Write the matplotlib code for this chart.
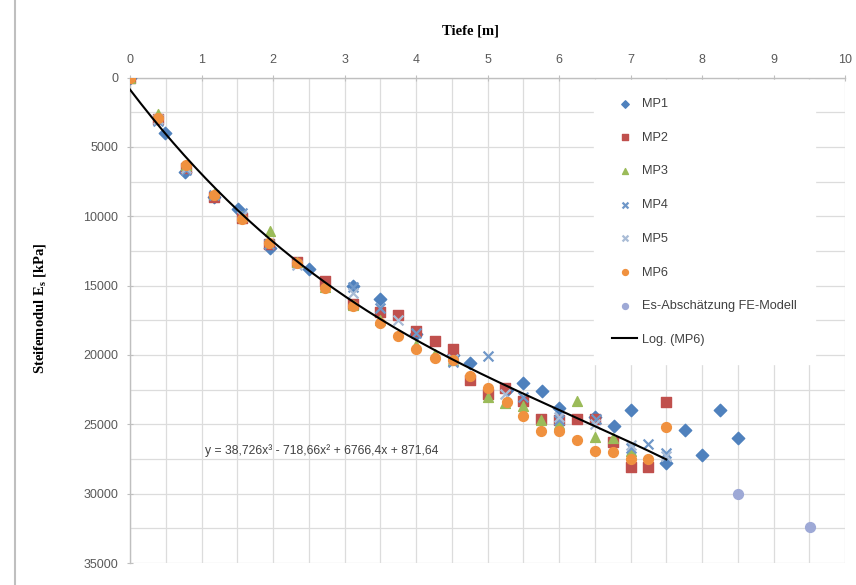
import matplotlib
matplotlib.use('Agg')
import matplotlib.pyplot as plt
import numpy as np
from matplotlib.lines import Line2D
from matplotlib.ticker import MultipleLocator

plt.rcParams['mathtext.fontset'] = 'custom'
plt.rcParams['mathtext.rm'] = 'Liberation Serif'
plt.rcParams['mathtext.bf'] = 'Liberation Serif:bold'

# ---------------- data (depth [m], stiffness modulus [kPa]) ----------------
mp1_x = [0, 0.49, 0.77, 1.17, 1.51, 1.96, 2.51, 3.12, 3.5, 4.0, 4.52, 4.76, 5.27,
         5.5, 5.76, 6.0, 6.5, 6.77, 7.0, 7.5, 7.76, 8.0, 8.25, 8.5]
mp1_y = [0, 4000, 6800, 8600, 9500, 12300, 13800, 15000, 16000, 18500, 20000, 20600, 22500,
         22000, 22600, 23800, 24500, 25100, 24000, 27800, 25400, 27200, 24000, 26000]

mp2_x = [0, 0.39, 0.78, 1.17, 1.56, 1.95, 2.34, 2.73, 3.12, 3.5, 3.75, 4.0, 4.27, 4.52,
         4.76, 5.0, 5.25, 5.5, 5.75, 6.0, 6.25, 6.5, 6.75, 7.0, 7.25, 7.5]
mp2_y = [0, 3000, 6500, 8600, 10100, 12000, 13300, 14700, 16300, 16900, 17100, 18300, 19000, 19600,
         21800, 22800, 22400, 23300, 24600, 24700, 24600, 24600, 26300, 28100, 28100, 23400]

mp3_x = [0, 0.39, 0.78, 1.17, 1.56, 1.96, 2.34, 2.73, 3.12, 3.5, 4.0, 4.27, 4.52, 5.0,
         5.25, 5.5, 5.75, 6.0, 6.25, 6.5, 6.75, 7.0]
mp3_y = [0, 2600, 6300, 8400, 10000, 11100, 13300, 15100, 16400, 17500, 19300, 19900, 20400, 23000,
         23500, 23700, 24700, 25000, 23300, 25900, 26000, 26900]

mp4_x = [0.39, 0.78, 1.17, 1.56, 1.95, 3.12, 3.5, 4.0, 4.52, 5.0, 5.5, 6.0, 6.52, 7.0, 7.25, 7.5]
mp4_y = [3100, 6700, 8500, 9800, 12000, 15100, 16600, 18400, 20500, 20100, 23000, 24700, 24600,
         26700, 26400, 27100]

mp5_x = [0.39, 0.78, 1.56, 2.34, 3.12, 3.75, 4.52, 5.25, 6.0, 6.5, 7.0, 7.5]
mp5_y = [3000, 6500, 10000, 13500, 15500, 17500, 20300, 22800, 24500, 25000, 26500, 27300]

mp6_x = [0, 0.39, 0.78, 1.17, 1.56, 1.95, 2.34, 2.73, 3.12, 3.5, 3.75, 4.0, 4.27, 4.52,
         4.76, 5.0, 5.27, 5.5, 5.75, 6.0, 6.25, 6.5, 6.75, 7.0, 7.25, 7.5]
mp6_y = [0, 2900, 6300, 8500, 10200, 11900, 13400, 15200, 16500, 17700, 18600, 19600, 20200, 20400,
         21500, 22400, 23400, 24400, 25500, 25500, 26100, 26900, 27000, 27500, 27500, 25200]

fe_x = [8.5, 9.51]
fe_y = [30000, 32400]

fit_coef = [38.726, -718.66, 6766.4, 871.64]
fit_xmax = 7.5
fit_label = "y = 38,726x³ - 718,66x² + 6766,4x + 871,64"

series_labels = ["MP1", "MP2", "MP3", "MP4", "MP5", "MP6", "Es-Abschätzung FE-Modell"]
trend_label = "Log. (MP6)"

# ---------------- figure ----------------
W, H = 856, 585
fig = plt.figure(figsize=(W / 100, H / 100), dpi=100)
fig.patch.set_facecolor('white')
L, R, T, B = 130, 845, 77.5, 563
ax = fig.add_axes([L / W, 1 - B / H, (R - L) / W, (B - T) / H])

ax.set_xlim(0, 10)
ax.set_ylim(35000, 0)
ax.xaxis.set_major_locator(MultipleLocator(1))
ax.xaxis.set_minor_locator(MultipleLocator(0.5))
ax.yaxis.set_major_locator(MultipleLocator(5000))
ax.yaxis.set_minor_locator(MultipleLocator(2500))
ax.grid(True, which='both', color='#DCDCDC', lw=0.9)
ax.set_axisbelow(True)

ax.xaxis.tick_top()
ax.tick_params(which='major', direction='inout', length=5, color='#BFBFBF',
               labelsize=9, labelcolor='#595959', pad=6)
ax.tick_params(which='minor', length=0)
for lab in ax.get_xticklabels() + ax.get_yticklabels():
    lab.set_fontfamily('Liberation Sans')
for s in ['right', 'bottom']:
    ax.spines[s].set_visible(False)
for s in ['left', 'top']:
    ax.spines[s].set_color('#BFBFBF')
    ax.spines[s].set_linewidth(1.0)

ms = 50
h1 = ax.scatter(mp1_x, mp1_y, marker='D', s=ms * 0.8, color='#4F81BD', zorder=3, label=series_labels[0])
h2 = ax.scatter(mp2_x, mp2_y, marker='s', s=ms, color='#C0504D', zorder=3, label=series_labels[1])
h3 = ax.scatter(mp3_x, mp3_y, marker='^', s=ms, color='#9BBB59', zorder=3, label=series_labels[2])
h4 = ax.scatter(mp4_x, mp4_y, marker='x', s=ms, color='#6F97C8', linewidths=1.6, zorder=3, label=series_labels[3])
h5 = ax.scatter(mp5_x, mp5_y, marker='x', s=ms, color='#A9BCD6', linewidths=1.6, zorder=3, label=series_labels[4])
h6 = ax.scatter(mp6_x, mp6_y, marker='o', s=ms, color='#F0913F', zorder=3, label=series_labels[5])
h7 = ax.scatter(fe_x, fe_y, marker='o', s=ms, color='#9EA9D6', zorder=3, label=series_labels[6])

xf = np.linspace(0, fit_xmax, 200)
yf = np.polyval(fit_coef, xf)
h8, = ax.plot(xf, yf, color='black', lw=1.5, zorder=4, label=trend_label)

ax.text(1.05, 26900, fit_label, fontsize=8.7, color='#404040', va='center',
        family='Liberation Sans', zorder=5)

leg = ax.legend(handles=[h1, h2, h3, h4, h5, h6, h7, h8],
                loc='upper left', bbox_to_anchor=(594 / W, 1 - 80 / H),
                bbox_transform=fig.transFigure, frameon=True, fancybox=False,
                facecolor='white', edgecolor='white', framealpha=1,
                prop={'family': 'Liberation Sans', 'size': 9.2},
                labelspacing=1.7, borderpad=1.4, handlelength=2.0,
                handletextpad=0.35, markerscale=0.6, borderaxespad=0)
for t in leg.get_texts():
    t.set_color('#404040')
leg.set_zorder(6)

fig.text(470 / W, 1 - 31 / H, "Tiefe [m]", ha='center', va='center',
         family='Liberation Serif', weight='bold', fontsize=10.5)
fig.text(41 / W, 1 - 308 / H, r"Steifemodul E$_\mathbf{s}$ [kPa]", ha='center', va='center',
         rotation=90, family='Liberation Serif', weight='bold', fontsize=10.5)

fig.add_artist(Line2D([15 / W, 15 / W], [0, 1], color='#BFBFBF', lw=1.5))

fig.savefig('out.png', dpi=100)
